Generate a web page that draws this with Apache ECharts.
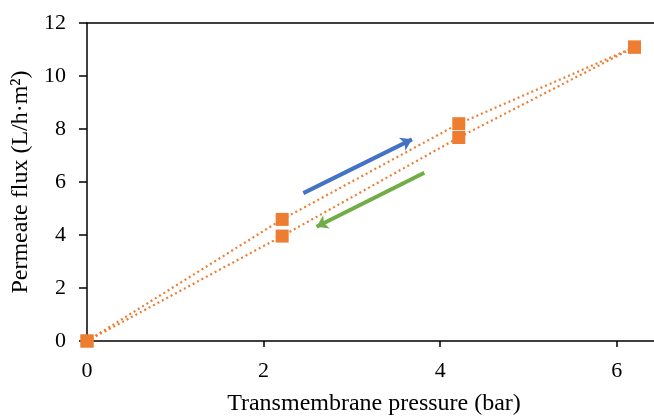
<!DOCTYPE html>
<html>
<head>
<meta charset="utf-8">
<script src="https://cdn.jsdelivr.net/npm/echarts@6/dist/echarts.min.js"></script>
<style>
  html, body { margin: 0; padding: 0; background: #fff; }
  #chart { width: 654px; height: 416px; }
</style>
</head>
<body>
<div id="chart"></div>
<script>
// pressures (bar) and fluxes
var pressure = [0, 2.21, 4.21, 6.2];
var fluxUp = [0, 4.59, 8.2, 11.09];
var fluxDown = [0, 3.96, 7.68, 11.09];

// direction arrows, [start, end] in data coords
var arrowUp = [[2.45, 5.58], [3.68, 7.61]];
var arrowDown = [[3.82, 6.35], [2.6, 4.31]];

var yTicks = { min: 0, max: 12, step: 2 };

var chart = echarts.init(document.getElementById('chart'));

function pairs(xs, ys) {
    var out = [];
    for (var i = 0; i < xs.length; i++) out.push([xs[i], ys[i]]);
    return out;
}

var orange = '#ED7D31';
var serif = '"Liberation Serif", "Times New Roman", serif';

var pointSeries = function (ys) {
    return {
	type: 'line',
	xAxisIndex: 0,
	data: pairs(pressure, ys),
	symbol: 'rect',
	symbolSize: 13,
	itemStyle: { color: orange },
	lineStyle: { color: orange, width: 2.2, type: [2, 3] },
	z: 3
    };
};

var arrowSeries = function (seg, color) {
    return {
	type: 'lines',
	coordinateSystem: 'cartesian2d',
	xAxisIndex: 0,
	symbol: ['none', 'arrow'],
	symbolSize: 11,
	lineStyle: { color: color, width: 4, opacity: 1 },
	data: [{ coords: seg }],
	z: 4
    };
};

var option = {
    animation: false,
    grid: { left: 87, top: 23, bottom: 75, width: 574, outerBoundsMode: 'none', containLabel: false },
    xAxis: [{
	type: 'value',
	min: 0,
	max: 6.5,
	interval: 2,
	name: 'Transmembrane pressure (bar)',
	nameLocation: 'middle',
	nameGap: 51,
	nameTextStyle: { fontFamily: serif, fontSize: 24, color: '#000' },
	axisLine: { lineStyle: { color: '#000', width: 1.5 } },
	axisTick: { show: true, length: 6, lineStyle: { color: '#000', width: 1.5 } },
	axisLabel: { fontFamily: serif, fontSize: 22, color: '#000', margin: 19, showMaxLabel: false },
	splitLine: { show: false }
    }, {
	type: 'value',
	position: 'top',
	min: 0,
	max: 6.5,
	axisLine: { show: true, onZero: false, lineStyle: { color: '#000', width: 1.5 } },
	axisTick: { show: false },
	axisLabel: { show: false },
	splitLine: { show: false }
    }],
    yAxis: {
	type: 'value',
	min: yTicks.min,
	max: yTicks.max,
	interval: yTicks.step,
	name: 'Permeate flux (L/h·m²)',
	nameLocation: 'middle',
	nameGap: 54,
	nameTextStyle: { fontFamily: serif, fontSize: 24, color: '#000' },
	axisLine: { show: true, lineStyle: { color: '#000', width: 1.5 } },
	axisTick: { show: true, length: 8, lineStyle: { color: '#000', width: 1.5 } },
	axisLabel: { fontFamily: serif, fontSize: 22, color: '#000', margin: 21 },
	splitLine: { show: false }
    },
    series: [
	pointSeries(fluxUp),
	pointSeries(fluxDown),
	arrowSeries(arrowUp, '#4472C4'),
	arrowSeries(arrowDown, '#70AD47')
    ]
};

chart.setOption(option);
</script>
</body>
</html>
